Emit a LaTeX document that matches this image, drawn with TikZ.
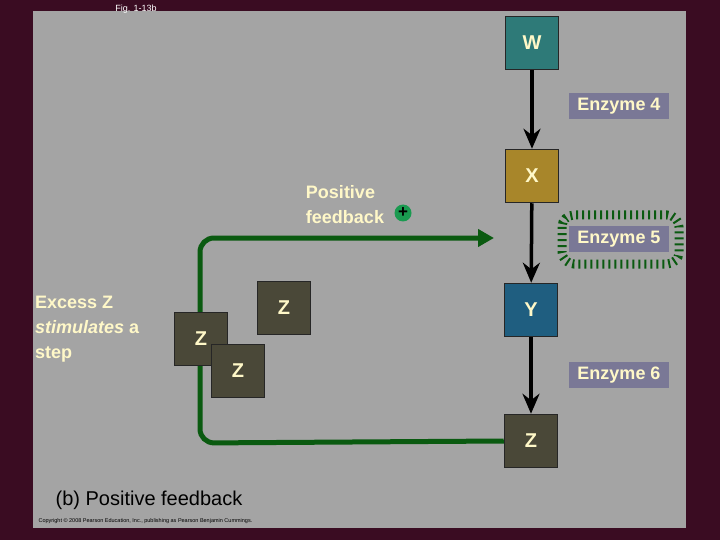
\documentclass[tikz,border=0pt]{standalone}
\usepackage{fontspec}
\setmainfont{Liberation Sans}
\usetikzlibrary{arrows.meta}
\definecolor{bgc}{HTML}{3A0C22}
\definecolor{panel}{HTML}{A4A4A4}
\definecolor{cream}{HTML}{FFF8C8}
\definecolor{cw}{HTML}{2E7A78}
\definecolor{cx}{HTML}{A8862A}
\definecolor{cy}{HTML}{1F5E80}
\definecolor{cz}{HTML}{4A4838}
\definecolor{enz}{HTML}{7A7896}
\definecolor{fg}{HTML}{0A5A10}
\definecolor{plus}{HTML}{1A9A50}
\begin{document}
\begin{tikzpicture}[x=1pt,y=-1pt,
 mol/.style={draw=black!85,line width=1.5pt,minimum size=53pt,inner sep=0pt,text=cream,font=\bfseries\fontsize{20}{20}\selectfont},
 enzbox/.style={fill=enz,text=cream,font=\bfseries\fontsize{18}{18}\selectfont,inner sep=3pt,minimum height=26pt,minimum width=100pt},
 step arrow/.style={line width=3.5pt,-{Stealth[length=20pt,width=17pt]}},
 lbl/.style={text=cream,font=\bfseries\fontsize{18}{25}\selectfont,align=left}]
\fill[bgc] (0,0) rectangle (720,540);
\useasboundingbox (0,0) rectangle (720,540);
\fill[panel] (33,11) rectangle (686,528);
\node[text=white,font=\fontsize{9}{9}\selectfont] (fig) at (136,9) {Fig. 1-13b};
\node[mol,fill=cw] (W) at (532,43) {W};
\node[mol,fill=cx] (X) at (532,176) {X};
\node[mol,fill=cy] (Y) at (531,310) {Y};
\node[mol,fill=cz] (Z) at (531,441) {Z};
\draw[step arrow] (W) -- (X);
\draw[step arrow] (X) -- (Y);
\draw[step arrow] (Y) -- (Z);
\node[enzbox] (e4) at (619,106) {Enzyme 4};
\node[enzbox] (e5) at (619,239) {Enzyme 5};
\node[enzbox] (e6) at (619,375) {Enzyme 6};
\draw[fg,line width=9pt,dash pattern=on 2pt off 4pt,rounded corners=12pt]
  (562,215) rectangle (679,264);
\coordinate (lb) at (200,443);
\coordinate (lt) at (200,238);
\coordinate (la) at (494,238);
\draw[fg,line width=5pt,rounded corners=14pt,-{Triangle[length=16pt,width=17pt]}] (Z.west) -- (lb) -- (lt) -- (la);
\node[mol,fill=cz] (z1) at (201,339) {Z};
\node[mol,fill=cz] (z2) at (284,308) {Z};
\node[mol,fill=cz] (z3) at (238,371) {Z};
\node[lbl] (pf) at (345,205) {Positive\\feedback};
\node[circle,fill=plus,inner sep=0pt,minimum size=17pt,font=\bfseries\fontsize{17}{17}\selectfont] (pl) at (403,213) {+};
\node[lbl,anchor=north west,inner sep=2pt] (ex) at (33,294) {Excess Z\\\textit{stimulates} a\\step};
\node[font=\fontsize{20}{20}\selectfont] (cap) at (149,500) {(b) Positive feedback};
\node[text=black,font=\fontsize{5.5}{5.5}\selectfont,anchor=west] (copy) at (35,521) {Copyright © 2008 Pearson Education, Inc., publishing as Pearson Benjamin Cummings.};
\end{tikzpicture}
\end{document}
